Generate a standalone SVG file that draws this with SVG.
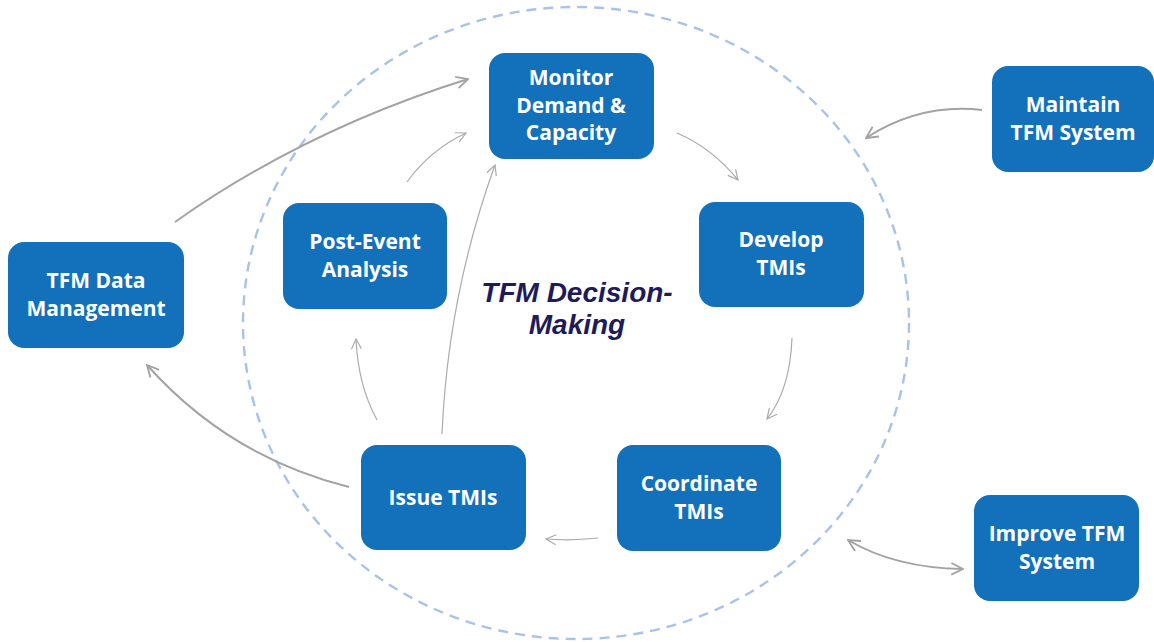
<svg xmlns="http://www.w3.org/2000/svg" width="1154" height="642" viewBox="0 0 1154 642">
<style>
.box{fill:#1271BA;}
.lbl{fill:#FFFFFF;font-family:"Open Sans","Noto Sans",sans-serif;font-weight:bold;font-size:21px;text-anchor:middle;}
.title{fill:#1E1B5C;font-family:"Liberation Sans",Arial,sans-serif;font-weight:bold;font-style:italic;font-size:28px;text-anchor:middle;}
.con{fill:none;stroke:#ABABAB;stroke-width:1.2;}
.thick{stroke:#A3A3A3;stroke-width:2;}
</style>
<defs>
<marker id="ah" viewBox="0 0 12 12" refX="11" refY="6" markerWidth="12" markerHeight="12" markerUnits="userSpaceOnUse" orient="auto-start-reverse">
<path d="M1,1 L11,6 L1,11" fill="none" stroke="#ABABAB" stroke-width="1.2"/>
</marker>
<marker id="ahb" viewBox="0 0 12 12" refX="11" refY="6" markerWidth="14" markerHeight="14" markerUnits="userSpaceOnUse" orient="auto-start-reverse">
<path d="M1,1 L11,6 L1,11" fill="none" stroke="#A3A3A3" stroke-width="1.6"/>
</marker>
</defs>
<rect width="1154" height="642" fill="#FFFFFF"/>
<ellipse id="boundary" cx="576" cy="323" rx="333" ry="316" fill="none" stroke="#A9C2EA" stroke-width="2.4" stroke-dasharray="10 7"/>
<g id="connectors">
<path class="con thick" d="M175,222 Q305,130 468,79" marker-end="url(#ahb)"/>
<path class="con thick" d="M349,487 Q229,457 147,365" marker-end="url(#ahb)"/>
<path class="con thick" d="M982,110 Q920,103 866,138" marker-end="url(#ahb)"/>
<path class="con thick" d="M848,540 Q895,568 963,569" marker-start="url(#ahb)" marker-end="url(#ahb)"/>
<path class="con" d="M677,133 Q712,148 738,180" marker-end="url(#ah)"/>
<path class="con" d="M792,338 Q790,390 767,419" marker-end="url(#ah)"/>
<path class="con" d="M598,538 Q572,541 546,539" marker-end="url(#ah)"/>
<path class="con" d="M377,420 Q358,385 356,339" marker-end="url(#ah)"/>
<path class="con" d="M442,434 Q448,295 495,165" marker-end="url(#ah)"/>
<path class="con" d="M407,182 Q430,150 466,133" marker-end="url(#ah)"/>
</g>
<g id="title">
<text class="title" x="577" y="302">TFM Decision-</text>
<text class="title" x="577" y="334">Making</text>
</g>
<g id="monitor">
<rect class="box" x="489" y="53" width="165" height="106" rx="16"/>
<text class="lbl" x="571" y="85">Monitor</text>
<text class="lbl" x="571" y="113">Demand &amp;</text>
<text class="lbl" x="571" y="140">Capacity</text>
</g>
<g id="develop">
<rect class="box" x="699" y="202" width="165" height="105" rx="16"/>
<text class="lbl" x="781" y="247">Develop</text>
<text class="lbl" x="781" y="275">TMIs</text>
</g>
<g id="postevent">
<rect class="box" x="283" y="203" width="164" height="106" rx="16"/>
<text class="lbl" x="365" y="249">Post-Event</text>
<text class="lbl" x="365" y="277">Analysis</text>
</g>
<g id="datamgmt">
<rect class="box" x="8" y="242" width="176" height="106" rx="16"/>
<text class="lbl" x="96" y="288">TFM Data</text>
<text class="lbl" x="96" y="316">Management</text>
</g>
<g id="issue">
<rect class="box" x="361" y="445" width="165" height="105" rx="16"/>
<text class="lbl" x="443" y="505">Issue TMIs</text>
</g>
<g id="coordinate">
<rect class="box" x="617" y="445" width="164" height="106" rx="16"/>
<text class="lbl" x="699" y="491">Coordinate</text>
<text class="lbl" x="699" y="519">TMIs</text>
</g>
<g id="maintain">
<rect class="box" x="992" y="66" width="162" height="106" rx="16"/>
<text class="lbl" x="1073" y="112">Maintain</text>
<text class="lbl" x="1073" y="140">TFM System</text>
</g>
<g id="improve">
<rect class="box" x="974" y="495" width="165" height="106" rx="16"/>
<text class="lbl" x="1057" y="541">Improve TFM</text>
<text class="lbl" x="1057" y="569">System</text>
</g>
</svg>
